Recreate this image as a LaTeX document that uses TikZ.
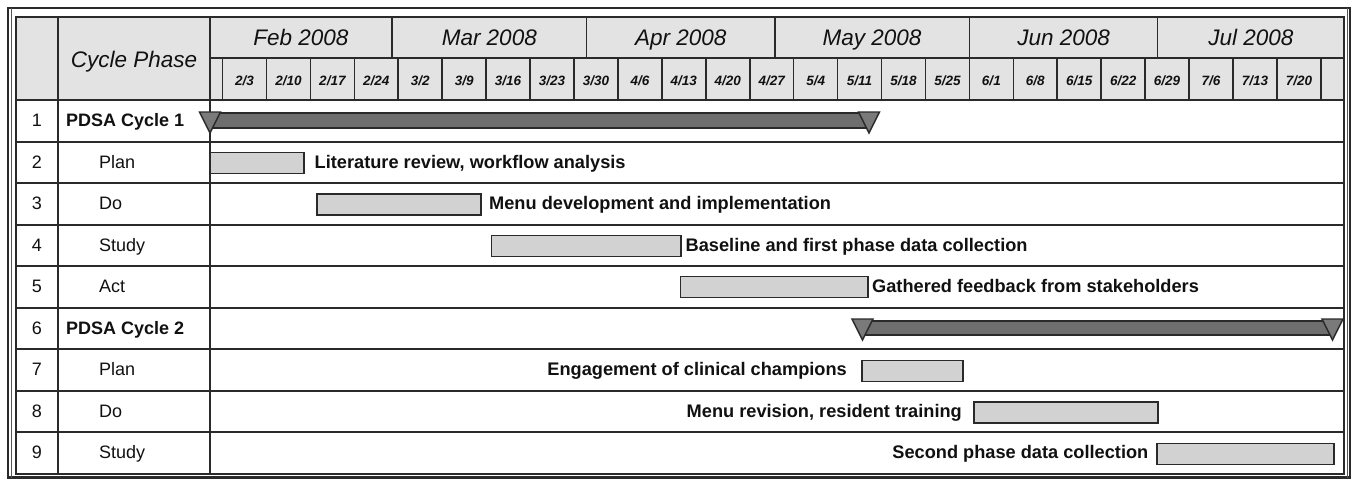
\documentclass[tikz,border=0pt]{standalone}
\usepackage{fontspec}
\setmainfont{Liberation Sans}
\definecolor{hdr}{HTML}{E3E3E3}
\definecolor{taskfill}{HTML}{D2D2D2}
\definecolor{sumfill}{HTML}{6E6E6E}
\definecolor{trifill}{HTML}{7A7A7A}
\definecolor{gridc}{HTML}{2A2A2A}
\definecolor{txt}{HTML}{111111}
\begin{document}
\begin{tikzpicture}[x=1pt,y=-1pt,
  gridline/.style={draw=gridc,line width=2pt},
  thingrid/.style={draw=gridc,line width=1.6pt},
  taskbar/.style={draw=gridc,fill=taskfill,line width=1.8pt},
  sumbar/.style={draw=gridc,fill=sumfill,line width=1.4pt},
  tri/.style={draw=gridc,fill=trifill,line width=1.4pt,line join=miter},
  monthlab/.style={font=\fontsize{22.5}{24}\selectfont\itshape,text=txt,anchor=base,inner sep=0pt},
  weeklab/.style={font=\fontsize{13.5}{14}\selectfont\bfseries\itshape,text=txt,anchor=base,inner sep=0pt},
  numlab/.style={font=\fontsize{18}{20}\selectfont,text=txt,anchor=base,inner sep=0pt},
  phaselab/.style={font=\fontsize{18}{20}\selectfont,text=txt,anchor=base west,inner sep=0pt},
  cyclelab/.style={font=\fontsize{18}{20}\selectfont\bfseries,text=txt,anchor=base west,inner sep=0pt},
  barlabW/.style={font=\fontsize{18.2}{20}\selectfont\bfseries,text=txt,anchor=base west,inner sep=0pt},
  barlabE/.style={font=\fontsize{18.2}{20}\selectfont\bfseries,text=txt,anchor=base east,inner sep=0pt}
]
\useasboundingbox (0,0) rectangle (1354,479);
\fill[white] (0,0) rectangle (1354,479);
% outer frame
\draw[draw=gridc,line width=2.6pt] (8,8) rectangle (1350,477.5);
\draw[draw=gridc!80,line width=1.2pt] (11.8,8) -- (11.8,477.5);
\draw[draw=gridc!80,line width=1.2pt] (1347.2,8) -- (1347.2,477.5);
% header background
\fill[hdr] (16,17) rectangle (1344,100);
% table border
\draw[gridline] (16,17) rectangle (1344,473.5);
% row separators
\foreach \k in {1,...,8} { \draw[gridline] (16,{100+41.5*\k}) -- (1344,{100+41.5*\k}); }
\draw[gridline] (16,100) -- (1344,100);
% column lines
\draw[gridline] (58,17) -- (58,473.5);
\draw[gridline] (210,17) -- (210,473.5);
% month / week separator
\draw[thingrid] (210,58) -- (1344,58);
% month boundaries
\foreach \b in {29,60,90,121,151} { \draw[thingrid] ({210+6.276*\b},17) -- ({210+6.276*\b},58); }
% week lines
\foreach \i in {0,...,25} { \draw[thingrid] ({210+6.276*(2+7*\i)},58) -- ({210+6.276*(2+7*\i)},100); }
% month labels
\foreach \m/\a/\b [count=\i] in {Feb/0/29,Mar/29/60,Apr/60/90,May/90/121,Jun/121/151,Jul/151/180.7} {
  \node[monthlab] (m\i) at ({210+6.276*(\a+\b)/2},45.5) {\m\ 2008};
}
% week labels
\foreach \w [count=\i from 0] in {2/3,2/10,2/17,2/24,3/2,3/9,3/16,3/23,3/30,4/6,4/13,4/20,4/27,5/4,5/11,5/18,5/25,6/1,6/8,6/15,6/22,6/29,7/6,7/13,7/20} {
  \node[weeklab] (w\i) at ({210+6.276*(5.5+7*\i)},85) {\w};
}
\node[font=\fontsize{22.5}{24}\selectfont\itshape,text=txt,anchor=base,inner sep=0pt] (cp) at (134,67) {Cycle Phase};
% row numbers
\foreach \k in {1,...,9} { \node[numlab] (n\k) at (37,{79.25+41.5*\k+6}) {\k}; }
% phase labels
\node[cyclelab] (p1) at (66,{79.25+41.5*1+6}) {PDSA Cycle 1};
\node[phaselab] (p2) at (99,{79.25+41.5*2+6}) {Plan};
\node[phaselab] (p3) at (99,{79.25+41.5*3+6}) {Do};
\node[phaselab] (p4) at (99,{79.25+41.5*4+6}) {Study};
\node[phaselab] (p5) at (99,{79.25+41.5*5+6}) {Act};
\node[cyclelab] (p6) at (66,{79.25+41.5*6+6}) {PDSA Cycle 2};
\node[phaselab] (p7) at (99,{79.25+41.5*7+6}) {Plan};
\node[phaselab] (p8) at (99,{79.25+41.5*8+6}) {Do};
\node[phaselab] (p9) at (99,{79.25+41.5*9+6}) {Study};
% summary bars
\draw[sumbar] (210,113) rectangle (869,128);
\draw[tri] (199.5,112) -- (220.5,112) -- (210,133) -- cycle;
\draw[tri] (858.5,112) -- (879.5,112) -- (869,133) -- cycle;
\draw[sumbar] (862.5,321) rectangle (1332.5,335);
\draw[tri] (852,319) -- (873,319) -- (862.5,340) -- cycle;
\draw[tri] (1322,319) -- (1343,319) -- (1332.5,340) -- cycle;
% task bars
\draw[taskbar] (210,152.5) rectangle (304,173.5);
\draw[taskbar] (317,194) rectangle (481,215);
\draw[taskbar] (491.5,235.5) rectangle (681,256.5);
\draw[taskbar] (680.5,276.5) rectangle (868,297.5);
\draw[taskbar] (862,360.5) rectangle (963,381.5);
\draw[taskbar] (974,402) rectangle (1158,423);
\draw[taskbar] (1157,443.5) rectangle (1334,464.5);
% bar labels
\node[barlabW] (t2) at (314.5,{79.25+41.5*2+6}) {Literature review, workflow analysis};
\node[barlabW] (t3) at (489,{79.25+41.5*3+6}) {Menu development and implementation};
\node[barlabW] (t4) at (685.5,{79.25+41.5*4+6}) {Baseline and first phase data collection};
\node[barlabW] (t5) at (872,{79.25+41.5*5+6}) {Gathered feedback from stakeholders};
\node[barlabE] (t7) at (847,{79.25+41.5*7+6}) {Engagement of clinical champions};
\node[barlabE] (t8) at (962,{79.25+41.5*8+6}) {Menu revision, resident training};
\node[barlabE] (t9) at (1148.5,{79.25+41.5*9+6}) {Second phase data collection};
\end{tikzpicture}
\end{document}
